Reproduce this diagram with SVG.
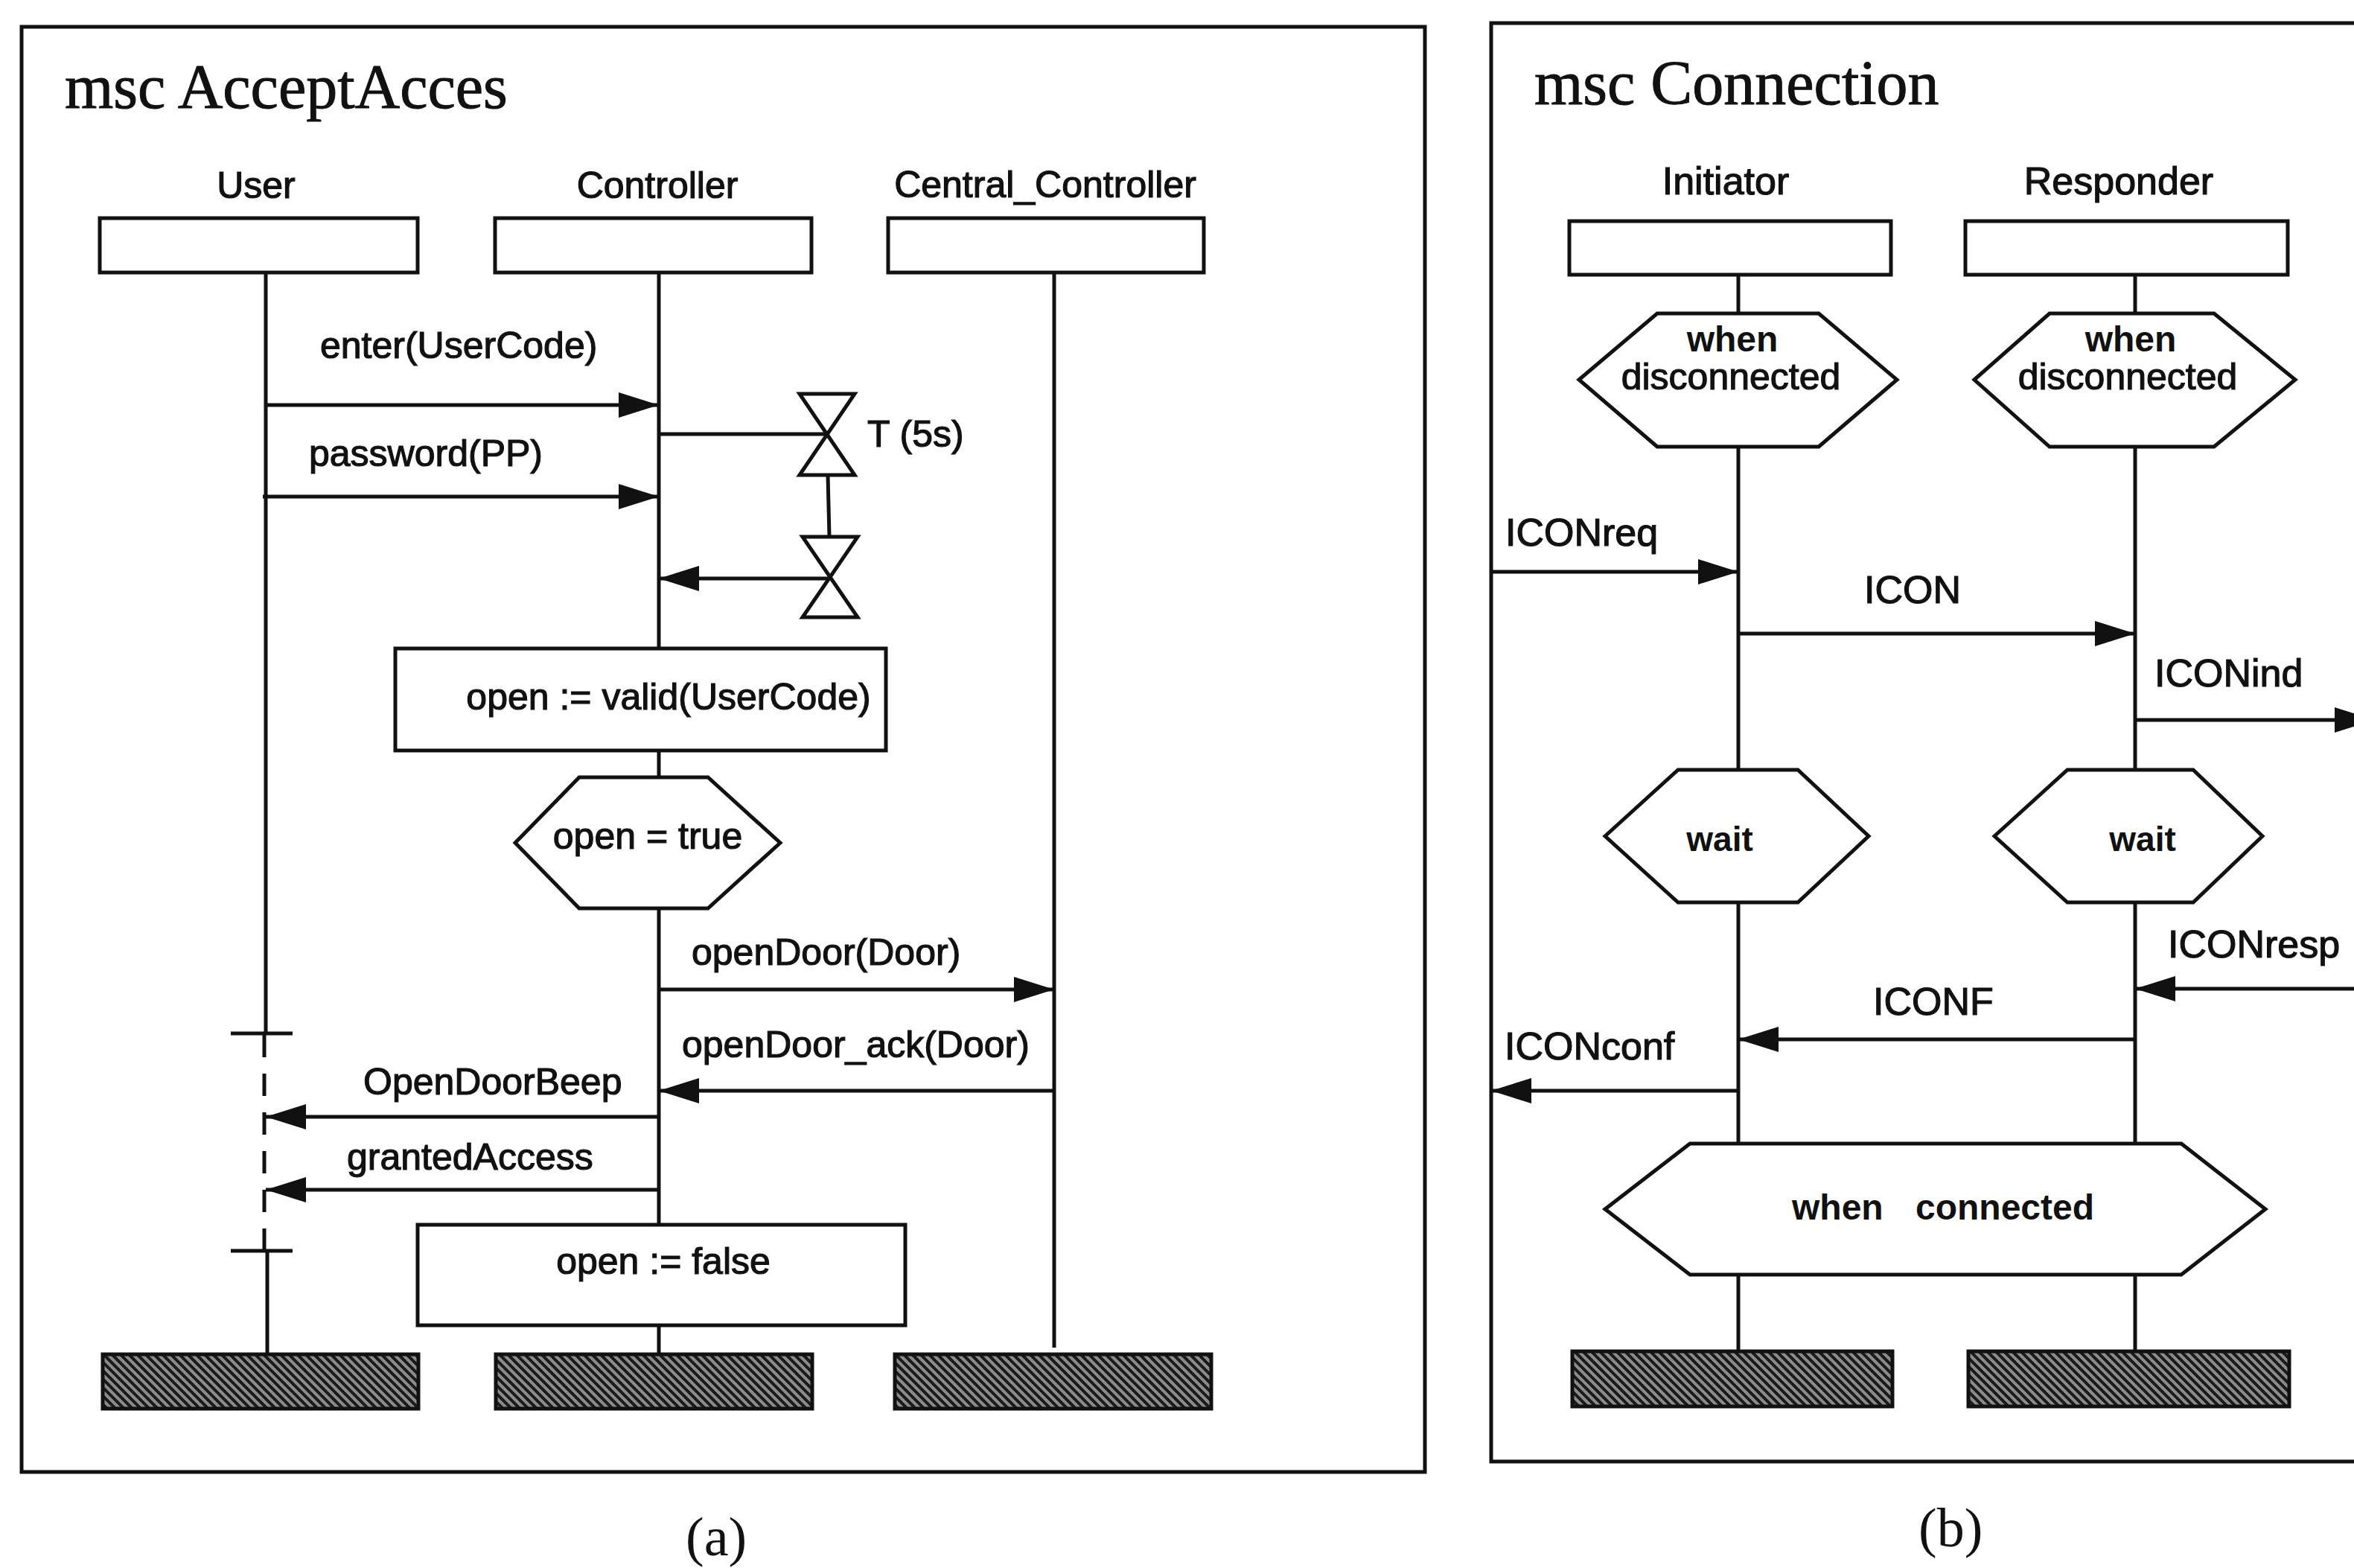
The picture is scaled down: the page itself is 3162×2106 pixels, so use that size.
<svg xmlns="http://www.w3.org/2000/svg" width="3162" height="2106" viewBox="0 0 3162 2106">
  <style>
    .frame { fill: none; stroke: #111; stroke-width: 5; }
    .box { fill: #fff; stroke: #111; stroke-width: 5; }
    .stop { fill: url(#hatch); stroke: #111; stroke-width: 5; }
    .life { stroke: #111; stroke-width: 5; fill: none; }
    .dash { stroke: #111; stroke-width: 5; fill: none; stroke-dasharray: 30 22; }
    .msg { stroke: #111; stroke-width: 5; fill: none; marker-end: url(#head); }
    .plain { stroke: #111; stroke-width: 5; fill: none; }
    .timer { fill: #fff; stroke: #111; stroke-width: 5; stroke-linejoin: miter; }
    .title { font-family: "Liberation Serif", "Times New Roman", serif; font-size: 84px; fill: #111; stroke: #111; stroke-width: 1; }
    .cap { font-family: "Liberation Serif", "Times New Roman", serif; font-size: 74px; fill: #111; }
    .la { font-family: "Liberation Sans", Arial, sans-serif; font-size: 50px; fill: #111; stroke: #111; stroke-width: 1.2; }
    .lb { font-family: "Liberation Sans", Arial, sans-serif; font-size: 52px; fill: #111; stroke: #111; stroke-width: 1.2; }
    .bold { font-family: "Liberation Sans", Arial, sans-serif; font-size: 48px; font-weight: bold; fill: #111; }
    .mid { text-anchor: middle; }
  </style>
  <defs>
    <pattern id="hatch" width="8" height="8" patternUnits="userSpaceOnUse" patternTransform="rotate(-45)">
      <rect width="8" height="8" fill="#8c8c8c"/>
      <line x1="4" y1="0" x2="4" y2="8" stroke="#1a1a1a" stroke-width="4"/>
    </pattern>
    <marker id="head" markerUnits="userSpaceOnUse" markerWidth="56" markerHeight="36" refX="54" refY="18" orient="auto">
      <path d="M0,1 L54,18 L0,35 Z" fill="#111"/>
    </marker>
  </defs>

  <rect width="3162" height="2106" fill="#fff"/>

  <!-- (a) msc AcceptAcces -->
  <g id="msc-acceptacces">
    <rect class="frame" x="29" y="36" width="1885" height="1941"/>
    <text class="title" x="87" y="145">msc AcceptAcces</text>
  </g>

  <g id="user">
    <text class="la mid" x="344" y="266">User</text>
    <rect class="box" x="134" y="293" width="427" height="73"/>
    <line class="life" x1="357" y1="366" x2="357" y2="1388"/>
    <line class="plain" x1="310" y1="1388" x2="393" y2="1388"/>
    <line class="dash" x1="355" y1="1390" x2="355" y2="1680"/>
    <line class="plain" x1="310" y1="1680" x2="393" y2="1680"/>
    <line class="life" x1="359" y1="1680" x2="359" y2="1820"/>
    <rect class="stop" x="138" y="1819" width="424" height="73"/>
  </g>

  <g id="controller">
    <text class="la mid" x="883" y="266">Controller</text>
    <rect class="box" x="665" y="293" width="425" height="73"/>
    <line class="life" x1="885" y1="366" x2="885" y2="871"/>
    <line class="life" x1="885" y1="1008" x2="885" y2="1044"/>
    <line class="life" x1="885" y1="1220" x2="885" y2="1645"/>
    <line class="life" x1="885" y1="1780" x2="885" y2="1819"/>
    <rect class="stop" x="666" y="1819" width="425" height="73"/>
  </g>

  <g id="central-controller">
    <text class="la mid" x="1404" y="265">Central_Controller</text>
    <rect class="box" x="1193" y="293" width="424" height="73"/>
    <line class="life" x1="1416" y1="366" x2="1416" y2="1810"/>
    <rect class="stop" x="1202" y="1819" width="425" height="73"/>
  </g>

  <g id="timer-set">
    <path class="timer" d="M1074,529 L1148,529 L1074,638 L1148,638 Z"/>
    <text class="la" x="1165" y="600">T (5s)</text>
  </g>

  <g id="timer-timeout">
    <path class="timer" d="M1078,721 L1152,721 L1078,829 L1152,829 Z"/>
  </g>

  <g id="action-valid">
    <rect class="box" x="531" y="871" width="659" height="137"/>
    <text class="la mid" x="898" y="953">open := valid(UserCode)</text>
  </g>

  <g id="condition-open-true">
    <polygon class="box" points="692,1132 778,1044 951,1044 1048,1132 951,1220 778,1220"/>
    <text class="la mid" x="870" y="1140">open = true</text>
  </g>

  <g id="action-false">
    <rect class="box" x="561" y="1645" width="655" height="135"/>
    <text class="la mid" x="891" y="1711">open := false</text>
  </g>

  <text class="cap" x="921" y="2089">(a)</text>

  <!-- (b) msc Connection -->
  <g id="msc-connection">
    <rect class="frame" x="2003" y="31" width="1200" height="1932"/>
    <text class="title" x="2061" y="140">msc Connection</text>
  </g>

  <g id="initiator">
    <text class="lb mid" x="2318" y="261">Initiator</text>
    <rect class="box" x="2108" y="297" width="432" height="72"/>
    <line class="life" x1="2335" y1="369" x2="2335" y2="421"/>
    <line class="life" x1="2335" y1="600" x2="2335" y2="1034"/>
    <line class="life" x1="2335" y1="1212" x2="2335" y2="1536"/>
    <line class="life" x1="2335" y1="1712" x2="2335" y2="1815"/>
    <rect class="stop" x="2112" y="1815" width="430" height="74"/>
  </g>

  <g id="responder">
    <text class="lb mid" x="2846" y="261">Responder</text>
    <rect class="box" x="2640" y="297" width="433" height="72"/>
    <line class="life" x1="2868" y1="369" x2="2868" y2="421"/>
    <line class="life" x1="2868" y1="600" x2="2868" y2="1034"/>
    <line class="life" x1="2868" y1="1212" x2="2868" y2="1536"/>
    <line class="life" x1="2868" y1="1712" x2="2868" y2="1815"/>
    <rect class="stop" x="2644" y="1815" width="431" height="74"/>
  </g>

  <g id="initiator-disconnected">
    <polygon class="box" points="2121,510 2226,421 2443,421 2548,510 2443,600 2226,600"/>
    <text class="bold mid" x="2327" y="472">when</text>
    <text class="lb mid" x="2325" y="523" style="font-size:50px">disconnected</text>
  </g>

  <g id="responder-disconnected">
    <polygon class="box" points="2652,510 2753,421 2974,421 3083,510 2974,600 2753,600"/>
    <text class="bold mid" x="2862" y="472">when</text>
    <text class="lb mid" x="2858" y="523" style="font-size:50px">disconnected</text>
  </g>

  <g id="initiator-wait">
    <polygon class="box" points="2156,1123 2254,1034 2415,1034 2510,1123 2415,1212 2254,1212"/>
    <text class="bold mid" x="2310" y="1143" style="font-size:46px">wait</text>
  </g>

  <g id="responder-wait">
    <polygon class="box" points="2679,1123 2777,1034 2946,1034 3039,1123 2946,1212 2777,1212"/>
    <text class="bold mid" x="2878" y="1143" style="font-size:46px">wait</text>
  </g>

  <g id="both-connected">
    <polygon class="box" points="2156,1624 2270,1536 2930,1536 3043,1624 2930,1712 2270,1712"/>
    <text class="bold mid" x="2610" y="1638" style="word-spacing:30px">when connected</text>
  </g>

  <text class="cap" x="2577" y="2077">(b)</text>

  <!-- messages and timer links -->
  <g id="connectors">
    <line class="msg" x1="357" y1="544" x2="885" y2="544"/>
    <text class="la" x="430" y="481">enter(UserCode)</text>

    <line class="msg" x1="353" y1="667" x2="885" y2="667"/>
    <text class="la" x="415" y="626">password(PP)</text>

    <line class="plain" x1="885" y1="583" x2="1111" y2="583"/>
    <line class="plain" x1="1112" y1="638" x2="1114" y2="721"/>
    <line class="msg" x1="1114" y1="777" x2="885" y2="777"/>

    <line class="msg" x1="885" y1="1329" x2="1416" y2="1329"/>
    <text class="la" x="929" y="1296">openDoor(Door)</text>

    <line class="msg" x1="1416" y1="1465" x2="885" y2="1465"/>
    <text class="la" x="916" y="1420">openDoor_ack(Door)</text>

    <line class="msg" x1="885" y1="1500" x2="357" y2="1500"/>
    <text class="la" x="488" y="1470">OpenDoorBeep</text>

    <line class="msg" x1="885" y1="1598" x2="357" y2="1598"/>
    <text class="la" x="466" y="1571">grantedAccess</text>

    <line class="msg" x1="2003" y1="768" x2="2335" y2="768"/>
    <text class="lb" x="2022" y="733">ICONreq</text>

    <line class="msg" x1="2335" y1="851" x2="2868" y2="851"/>
    <text class="lb" x="2504" y="810">ICON</text>

    <line class="msg" x1="2868" y1="967" x2="3190" y2="967"/>
    <text class="lb" x="2894" y="922">ICONind</text>

    <line class="msg" x1="3203" y1="1328" x2="2868" y2="1328"/>
    <text class="lb" x="2912" y="1286">ICONresp</text>

    <line class="msg" x1="2868" y1="1396" x2="2335" y2="1396"/>
    <text class="lb" x="2516" y="1363">ICONF</text>

    <line class="msg" x1="2335" y1="1465" x2="2003" y2="1465"/>
    <text class="lb" x="2021" y="1423">ICONconf</text>
  </g>
</svg>
